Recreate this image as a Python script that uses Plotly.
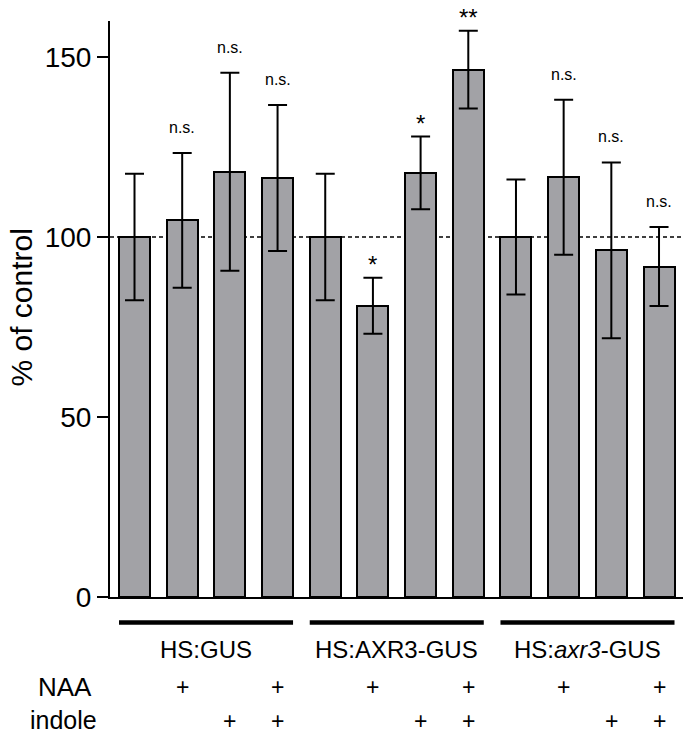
import plotly.graph_objects as go

# ---- data ----
groups = ["HS:GUS", "HS:AXR3-GUS", "HS:<i>axr3</i>-GUS"]
naa = ["", "+", "", "+"] * 3
indole = ["", "", "+", "+"] * 3
values = [100, 104.6, 118.1, 116.4, 100, 80.9, 117.8, 146.5, 100, 116.6, 96.3, 91.8]
errors = [17.6, 18.7, 27.5, 20.3, 17.6, 7.8, 10.1, 10.8, 16.0, 21.5, 24.4, 11.0]
signif = ["", "n.s.", "n.s.", "n.s.", "", "*", "*", "**", "", "n.s.", "n.s.", "n.s."]
yticks = [0, 50, 100, 150]

x = list(range(len(values)))
FONT = "Liberation Sans, Arial, Helvetica, sans-serif"

# pixel geometry helpers (plot area 110..683 x 21..597)
PL, PR, PT, PB = 110, 683, 21, 597
def py(p):
    return (PB - p) / (PB - PT)
def px(p):
    return (p - PL) / (PR - PL)

fig = go.Figure()
fig.add_trace(go.Bar(
    x=x, y=values, width=0.65,
    marker=dict(color="#a2a2a6", line=dict(color="black", width=2)),
    error_y=dict(type="data", array=errors, visible=True, color="black",
                 thickness=2, width=9.5),
    showlegend=False,
))

annotations = []
for i, (v, e, s) in enumerate(zip(values, errors, signif)):
    if not s:
        continue
    if s == "n.s.":
        annotations.append(dict(x=i, y=v + e, xref="x", yref="y", text=s,
                                showarrow=False, yanchor="bottom", yshift=15,
                                font=dict(family=FONT, size=16, color="black")))
    else:
        annotations.append(dict(x=i, y=v + e, xref="x", yref="y", text=s,
                                showarrow=False, yanchor="bottom", yshift=-2,
                                font=dict(family=FONT, size=24, color="black")))

# group labels and lines
shapes = []
n_per = 4
for g, name in enumerate(groups):
    x0 = g * n_per - 0.325
    x1 = g * n_per + n_per - 1 + 0.325
    shapes.append(dict(type="line", xref="x", yref="paper", x0=x0, x1=x1,
                       y0=py(622.5), y1=py(622.5),
                       line=dict(color="black", width=4.5)))
    annotations.append(dict(x=g * n_per + (n_per - 1) / 2, y=py(649), xref="x", yref="paper",
                            text=name, showarrow=False, yanchor="middle",
                            font=dict(family=FONT, size=24, color="black")))

# treatment rows
for i, (a, b) in enumerate(zip(naa, indole)):
    if a:
        annotations.append(dict(x=i, y=py(687), xref="x", yref="paper", text=a,
                                showarrow=False, yanchor="middle",
                                font=dict(family=FONT, size=23, color="black")))
    if b:
        annotations.append(dict(x=i, y=py(721), xref="x", yref="paper", text=b,
                                showarrow=False, yanchor="middle",
                                font=dict(family=FONT, size=23, color="black")))
annotations.append(dict(x=px(64.5), y=py(687), xref="paper", yref="paper", text="NAA",
                        showarrow=False, yanchor="middle", xanchor="center",
                        font=dict(family=FONT, size=26, color="black")))
annotations.append(dict(x=px(63.5), y=py(720), xref="paper", yref="paper", text="indole",
                        showarrow=False, yanchor="middle", xanchor="center",
                        font=dict(family=FONT, size=25, color="black")))

# y-axis title
annotations.append(dict(x=px(21), y=py(307.5), xref="paper", yref="paper",
                        text="% of control", textangle=-90, showarrow=False,
                        xanchor="center", yanchor="middle",
                        font=dict(family=FONT, size=30, color="black")))

# reference line at 100
shapes.append(dict(type="line", xref="paper", yref="y", x0=0, x1=1, y0=100, y1=100,
                   layer="below", line=dict(color="black", width=1.5, dash="4px,3px")))

fig.update_layout(
    width=683, height=735,
    margin=dict(l=PL, r=683 - PR, t=PT, b=735 - PB, pad=0),
    plot_bgcolor="white", paper_bgcolor="white",
    shapes=shapes, annotations=annotations,
    bargap=0,
)
fig.update_xaxes(range=[-0.514, len(values) - 1 + 0.503], showticklabels=False,
                 ticks="", showgrid=False, zeroline=False,
                 showline=True, linecolor="black", linewidth=1.5)
fig.update_yaxes(range=[0, 160], tickvals=yticks, ticks="outside", ticklen=11,
                 tickwidth=2, tickcolor="black", showgrid=False, zeroline=False,
                 showline=True, linecolor="black", linewidth=2,
                 tickfont=dict(family=FONT, size=28, color="black"))

fig.write_html("out.html")
